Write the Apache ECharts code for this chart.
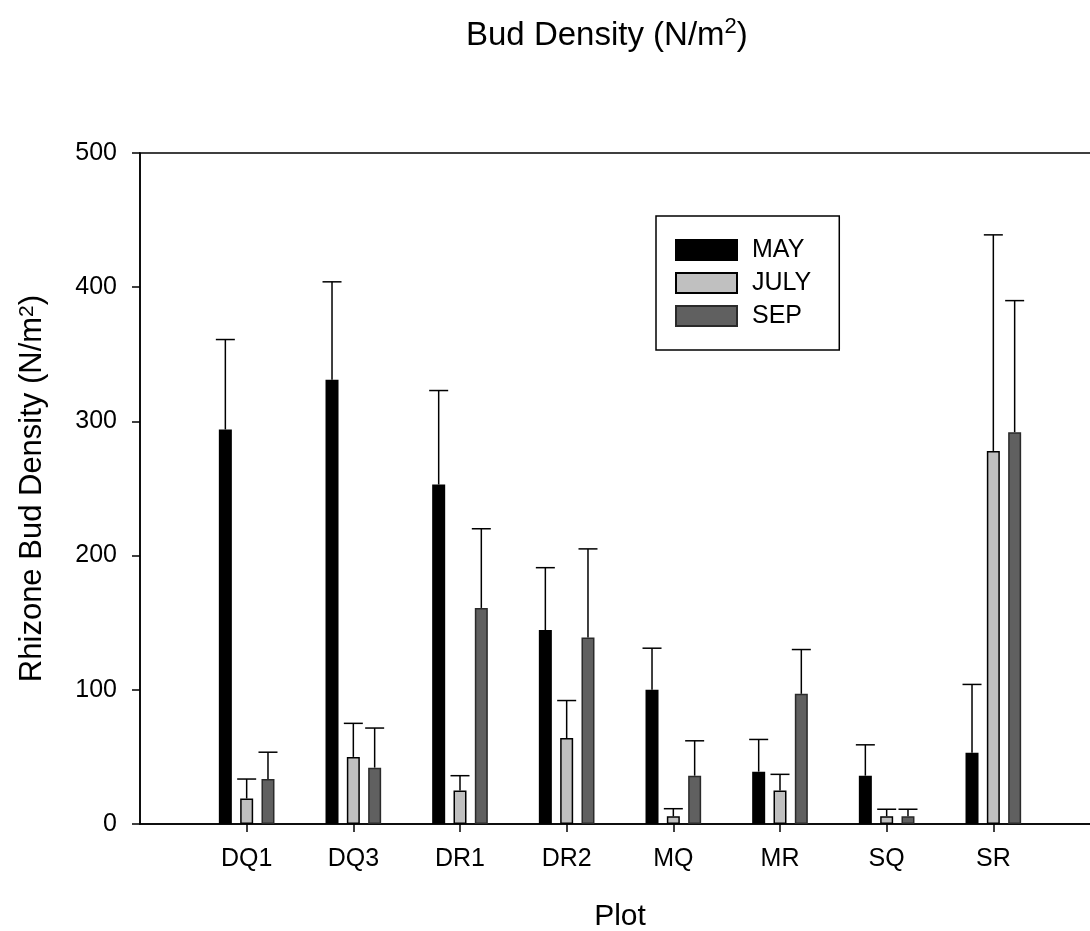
<!DOCTYPE html>
<html>
<head>
<meta charset="utf-8">
<script src="https://cdn.jsdelivr.net/npm/echarts@6/dist/echarts.min.js"></script>
<style>
html,body{margin:0;padding:0;background:#fff;overflow:hidden;}
#chart{width:1090px;height:931px;}
</style>
</head>
<body>
<div id="chart"></div>
<script>
const categories = ['DQ1', 'DQ3', 'DR1', 'DR2', 'MQ', 'MR', 'SQ', 'SR'];
const seriesNames = ['MAY', 'JULY', 'SEP'];
const mayValues = [294, 331, 253, 144.5, 100, 39, 36, 53];
const mayUpper = [361, 404, 323, 191, 131, 63, 59, 104];
const julyValues = [19, 50, 25, 64, 5.7, 25, 5.8, 278];
const julyUpper = [33.5, 75, 36, 92, 11.4, 37, 11, 439];
const sepValues = [33.5, 42, 161, 139, 36, 97, 5.8, 292];
const sepUpper = [53.5, 71.5, 220, 205, 62, 130, 11, 390];
const yTicks = [0, 100, 200, 300, 400, 500];

const FONT = "'Liberation Sans', Arial, Helvetica, sans-serif";
const BAR_W = 13;
const BAR_GAP = 0.64;
const STEP = BAR_W * (1 + BAR_GAP);

// axis categories padded with empty slots at both ends
const axisCats = [''].concat(categories, ['']);
function pad(arr) { return [null].concat(arr, [null]); }

const values = [mayValues, julyValues, sepValues];
const uppers = [mayUpper, julyUpper, sepUpper];
const colors = ['#000000', '#c0c0c0', '#606060'];
const borders = ['#000000', '#000000', '#2a2a2a'];

const barSeries = seriesNames.map((name, s) => ({
  name: name,
  type: 'bar',
  data: pad(values[s]),
  barWidth: BAR_W,
  barGap: (BAR_GAP * 100) + '%',
  itemStyle: { color: colors[s], borderColor: borders[s], borderWidth: 1.5 },
  emphasis: { disabled: true },
  silent: true,
  z: 2
}));

const errSeries = seriesNames.map((name, s) => ({
  name: name + ' err',
  type: 'custom',
  silent: true,
  z: 3,
  data: values[s].map((v, i) => [i + 1, v, uppers[s][i]]),
  renderItem: function (params, api) {
    const base = api.coord([api.value(0), api.value(1)]);
    const top = api.coord([api.value(0), api.value(2)]);
    const x = base[0] + (s - 1) * STEP;
    const cap = 9.5;
    const st = { stroke: '#000', lineWidth: 1.5, fill: null };
    return {
      type: 'group',
      children: [
        { type: 'line', shape: { x1: x, y1: base[1], x2: x, y2: top[1] }, style: st },
        { type: 'line', shape: { x1: x - cap, y1: top[1], x2: x + cap, y2: top[1] }, style: st }
      ]
    };
  }
}));

const chart = echarts.init(document.getElementById('chart'), null, { renderer: 'canvas' });
chart.setOption({
  animation: false,
  backgroundColor: '#ffffff',
  textStyle: { fontFamily: FONT, color: '#000' },
  title: {
    text: 'Bud Density (N/m{sup|2})',
    left: 466,
    top: 16,
    padding: 0,
    textStyle: {
      fontFamily: FONT, fontSize: 33, fontWeight: 'normal', color: '#000',
      lineHeight: 40,
      rich: { sup: { fontFamily: FONT, fontSize: 22, verticalAlign: 'top', lineHeight: 20, color: '#000' } }
    }
  },
  legend: {
    data: seriesNames,
    orient: 'vertical',
    left: 656,
    top: 216,
    padding: [21.5, 28, 21.5, 19],
    itemWidth: 61,
    itemHeight: 20,
    itemGap: 8,
    icon: 'rect',
    selectedMode: false,
    borderColor: '#000',
    borderWidth: 1.5,
    textStyle: { fontFamily: FONT, fontSize: 25, color: '#000', padding: [0, 0, 0, 10] }
  },
  grid: {
    left: 140, width: 960, top: 153, bottom: 107,
    outerBoundsMode: 'none',
    show: true, borderColor: '#000', borderWidth: 1.5, backgroundColor: 'transparent',
    containLabel: false
  },
  xAxis: {
    type: 'category',
    data: axisCats,
    boundaryGap: false,
    name: 'Plot',
    nameLocation: 'middle',
    nameGap: 78,
    nameTextStyle: { fontFamily: FONT, fontSize: 30, color: '#000' },
    axisLine: { lineStyle: { color: '#000', width: 1.5 } },
    axisTick: {
      show: true, length: 8, inside: false,
      interval: function (index, value) { return value !== ''; },
      lineStyle: { color: '#000', width: 1.5 }
    },
    axisLabel: {
      interval: 0, margin: 23, fontFamily: FONT, fontSize: 25, color: '#000'
    },
    splitLine: { show: false }
  },
  yAxis: {
    type: 'value',
    min: 0, max: 500, interval: 100,
    name: 'Rhizone Bud Density (N/m{sup|2})',
    nameLocation: 'middle',
    nameGap: 92,
    nameTextStyle: {
      fontFamily: FONT, fontSize: 31, color: '#000',
      rich: { sup: { fontFamily: FONT, fontSize: 21, verticalAlign: 'top', lineHeight: 19, color: '#000' } }
    },
    axisLine: { show: true, lineStyle: { color: '#000', width: 1.5 } },
    axisTick: { show: true, length: 8, inside: false, lineStyle: { color: '#000', width: 1.5 } },
    axisLabel: {
      margin: 23, fontFamily: FONT, fontSize: 25, color: '#000',
      formatter: function (v) { return yTicks.indexOf(v) >= 0 ? String(v) : ''; }
    },
    splitLine: { show: false }
  },
  series: barSeries.concat(errSeries)
});
</script>
</body>
</html>
